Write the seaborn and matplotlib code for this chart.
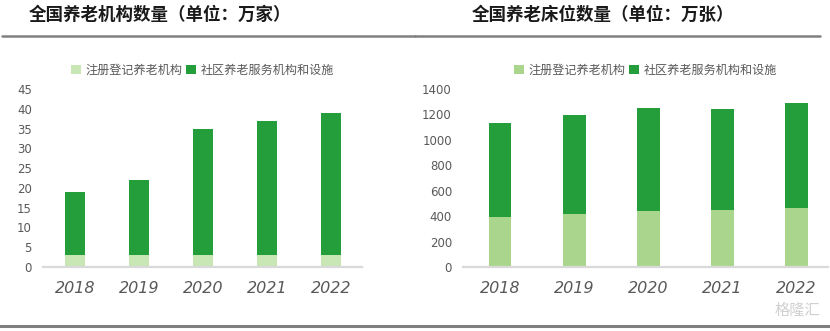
import matplotlib
matplotlib.use("Agg")
import matplotlib.pyplot as plt
from matplotlib.lines import Line2D
from matplotlib.patches import Patch
import seaborn as sns
import pandas as pd

# ---- data ----
years = ["2018", "2019", "2020", "2021", "2022"]
series_names = ["注册登记养老机构", "社区养老服务机构和设施"]

# Left: number of institutions (万家)
inst_registered = [3.0, 3.0, 3.0, 3.0, 3.0]
inst_community = [16.0, 19.0, 32.0, 34.0, 36.0]

# Right: number of beds (万张)
beds_registered = [395, 416, 440, 447, 461]
beds_community = [739, 781, 810, 795, 826]

titles = ["全国养老机构数量（单位：万家）", "全国养老床位数量（单位：万张）"]
left_yticks = [0, 5, 10, 15, 20, 25, 30, 35, 40, 45]
right_yticks = [0, 200, 400, 600, 800, 1000, 1200, 1400]

# ---- style ----
sns.set_theme(style="white")
plt.rcParams["font.family"] = ["Noto Sans CJK SC", "DejaVu Sans"]

DARK = "#239E3B"
LIGHT_L = "#C9E6B5"
LIGHT_R = "#A9D68C"
TXT = "#595959"

W, H = 830, 331
fig = plt.figure(figsize=(W / 100, H / 100), dpi=100)


def fx(px):
    return px / W


def fy(py):
    return 1 - py / H


def draw(ax, reg, com, light, yticks, ymax, xright):
    df = pd.DataFrame({"year": years, "reg": reg, "com": com})
    df["total"] = df["reg"] + df["com"]
    sns.barplot(data=df, x="year", y="total", color=DARK, width=0.31,
                ax=ax, saturation=1, edgecolor="none")
    sns.barplot(data=df, x="year", y="reg", color=light, width=0.31,
                ax=ax, saturation=1, edgecolor="none")
    ax.set_ylim(0, ymax)
    ax.set_xlim(-0.5, xright)
    ax.set_yticks(yticks)
    ax.set_xlabel("")
    ax.set_ylabel("")
    for s in ["top", "right", "left"]:
        ax.spines[s].set_visible(False)
    ax.spines["bottom"].set_color("#D9D9D9")
    ax.spines["bottom"].set_linewidth(1.6)
    ax.tick_params(axis="y", length=0, pad=8, labelsize=8.5, labelcolor=TXT)
    ax.tick_params(axis="x", length=0, pad=10, labelcolor=TXT)
    for lab in ax.get_yticklabels():
        lab.set_fontfamily(["DejaVu Sans"])
    for lab in ax.get_xticklabels():
        lab.set_fontfamily(["DejaVu Sans"])
        lab.set_fontstyle("italic")
        lab.set_fontsize(11.5)
        lab.set_color(TXT)
    handles = [Patch(facecolor=light, edgecolor="none"),
               Patch(facecolor=DARK, edgecolor="none")]
    ax.legend(handles, series_names, loc="lower center",
              bbox_to_anchor=(0.5, 1.04), ncol=2, frameon=False,
              fontsize=8.7, labelcolor=TXT, handlelength=0.8,
              handleheight=0.8, handletextpad=0.4, columnspacing=0.3,
              borderaxespad=0)


ax1 = fig.add_axes([fx(43), fy(267), fx(362 - 43), (267 - 89) / H])
draw(ax1, inst_registered, inst_community, LIGHT_L, left_yticks, 45, 4.48)

ax2 = fig.add_axes([fx(463), fy(267), fx(828 - 463), (267 - 89) / H])
draw(ax2, beds_registered, beds_community, LIGHT_R, right_yticks, 1400, 4.43)

# titles
fig.text(fx(160), fy(15), titles[0], ha="center", va="center",
         fontsize=12.6, fontweight="bold", color="#1a1a1a")
fig.text(fx(603), fy(15), titles[1], ha="center", va="center",
         fontsize=12.6, fontweight="bold", color="#1a1a1a")

# separator lines
fig.add_artist(Line2D([fx(2), fx(415)], [fy(36), fy(36)],
                      color="#808080", lw=1.8))
fig.add_artist(Line2D([fx(415), fx(820)], [fy(36), fy(36)],
                      color="#808080", lw=1.8))
fig.add_artist(Line2D([fx(0), fx(830)], [fy(326), fy(326)],
                      color="#7f7f7f", lw=2.2))

# watermark
fig.text(fx(797), fy(310), "格隆汇", ha="center", va="center",
         fontsize=11, color="#d0d0d0")

fig.savefig("out.png", dpi=100)
